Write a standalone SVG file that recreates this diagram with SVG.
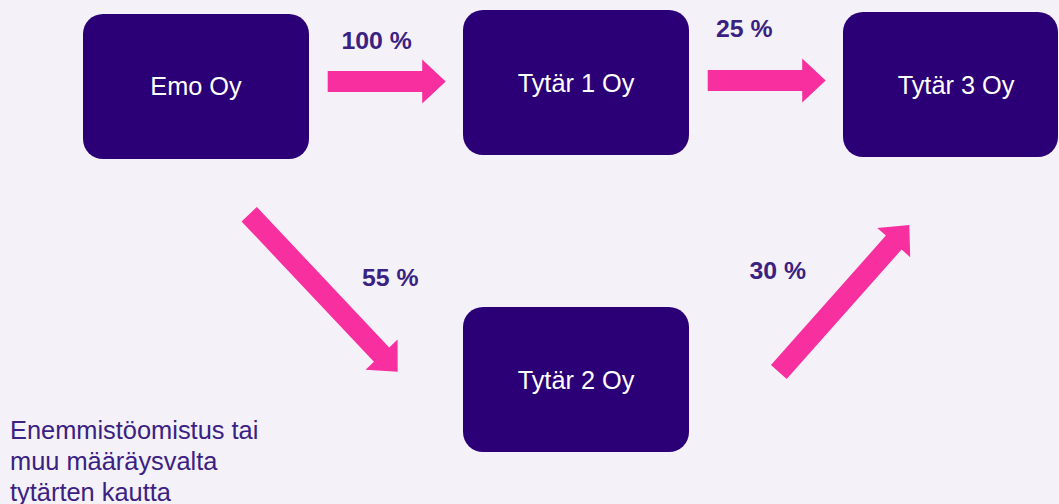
<svg xmlns="http://www.w3.org/2000/svg" width="1059" height="504" viewBox="0 0 1059 504">
  <style>
    .box { fill: #2B0076; }
    .name { fill: #FFFFFF; font-family: "Liberation Sans", Arial, sans-serif; font-size: 25.3px; text-anchor: middle; }
    .pct { fill: #3A2182; font-family: "Liberation Sans", Arial, sans-serif; font-size: 24.8px; font-weight: bold; }
    .arrow { fill: #F72F9F; }
    .note { fill: #3A2182; font-family: "Liberation Sans", Arial, sans-serif; font-size: 25.4px; }
  </style>
  <rect width="1059" height="504" fill="#F4F1F9"/>

  <g id="emo">
    <rect class="box" x="83" y="14" width="226" height="145" rx="20"/>
    <text class="name" x="196" y="95">Emo Oy</text>
  </g>
  <g id="tytar1">
    <rect class="box" x="463" y="10" width="226" height="145" rx="20"/>
    <text class="name" x="576" y="92">Tytär 1 Oy</text>
  </g>
  <g id="tytar3">
    <rect class="box" x="843" y="12" width="215" height="145" rx="20"/>
    <text class="name" x="956" y="94">Tytär 3 Oy</text>
  </g>
  <g id="tytar2">
    <rect class="box" x="463" y="307" width="226" height="145" rx="20"/>
    <text class="name" x="576" y="388.5">Tytär 2 Oy</text>
  </g>

  <!-- ownership arrows -->
  <g id="connectors">
    <path class="arrow" transform="translate(327.7,81.5)" d="M0,-10.5 H94.5 V-22 L118,0 L94.5,22 V10.5 H0 Z"/>
    <path class="arrow" transform="translate(707.7,80.5)" d="M0,-10.5 H94.5 V-22 L118,0 L94.5,22 V10.5 H0 Z"/>
    <path class="arrow" transform="translate(249.2,214.2) rotate(46.7)" d="M0,-10.5 H193 V-22 L216.5,0 L193,22 V10.5 H0 Z"/>
    <path class="arrow" transform="translate(778.8,372) rotate(-48.4)" d="M0,-10.5 H173.1 V-22 L196.6,0 L173.1,22 V10.5 H0 Z"/>
    <text class="pct" x="341.5" y="49">100 %</text>
    <text class="pct" x="716" y="37">25 %</text>
    <text class="pct" x="362" y="286">55 %</text>
    <text class="pct" x="749.5" y="278.5">30 %</text>
  </g>

  <text class="note" x="10" y="438.5">Enemmistöomistus tai</text>
  <text class="note" x="10" y="469.5">muu määräysvalta</text>
  <text class="note" x="10" y="500.5">tytärten kautta</text>
</svg>
